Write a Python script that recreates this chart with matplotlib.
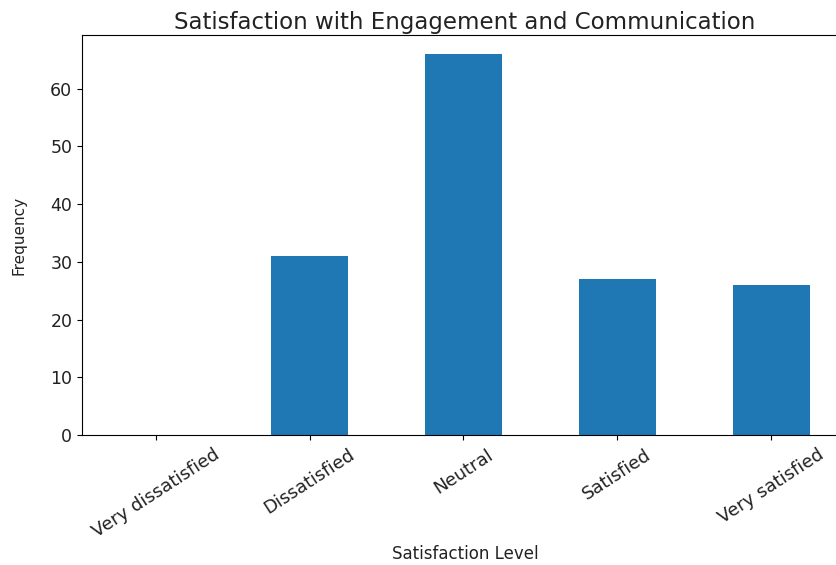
import numpy as np
import matplotlib
matplotlib.use("Agg")
from matplotlib import pyplot as plt

levels = ["Very dissatisfied", "Dissatisfied", "Neutral", "Satisfied", "Very satisfied"]
counts = [0, 31, 66, 27, 26]
yticks = [0, 10, 20, 30, 40, 50, 60]

W, H = 836, 565
fig = plt.figure(figsize=(W / 100, H / 100), dpi=100, facecolor="w")
# axes runs off the right edge like the reference crop
ax = fig.add_axes([82 / W, (H - 435) / H, (848 - 82) / W, 400 / H])

x = np.arange(len(levels))
ax.bar(x, counts, width=0.5, color="#1f77b4")
ax.set_xlim(-0.48, 4.5)
ax.set_ylim(0, max(counts) * 1.05)
ax.set_yticks(yticks)
ax.set_xticks(x)
ax.set_xticklabels(levels, rotation=33, ha="center", fontsize=13, color="#222222")
ax.tick_params(axis="y", labelsize=12.5, labelcolor="#222222")
ax.tick_params(axis="x", pad=4)
ax.set_xlabel("Satisfaction Level", fontsize=12, color="#222222", labelpad=3)
ax.set_ylabel("Frequency", fontsize=11, color="#222222", labelpad=17)
ax.set_title("Satisfaction with Engagement and Communication", fontsize=16.5,
             color="#222222", pad=4)

fig.savefig("out.png", dpi=100)
